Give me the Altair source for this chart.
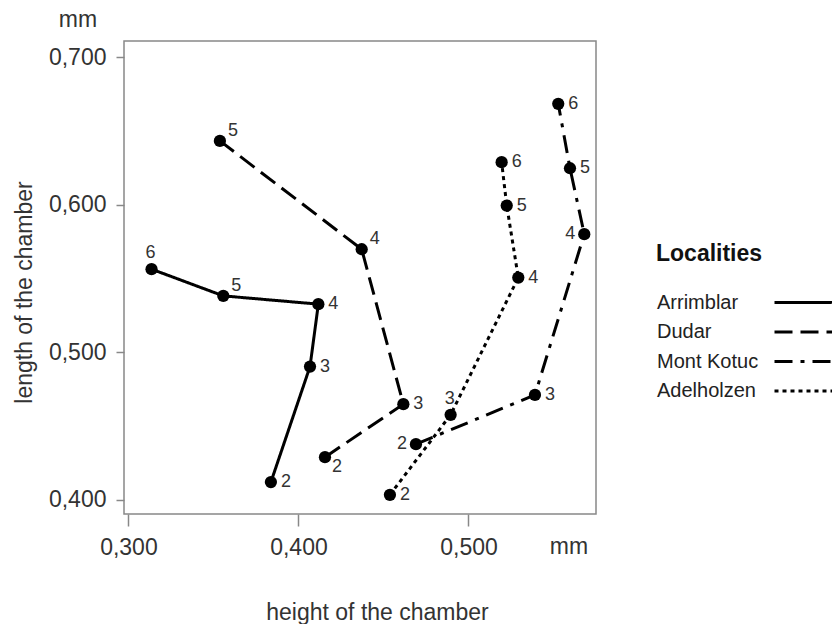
import altair as alt
import pandas as pd

localities = ["Arrimblar", "Dudar", "Mont Kotuc", "Adelholzen"]

arrimblar_chamber = [2, 3, 4, 5, 6]
arrimblar_height = [0.3838, 0.4068, 0.4117, 0.3558, 0.3136]
arrimblar_length = [0.4121, 0.4904, 0.5327, 0.5383, 0.5564]

dudar_chamber = [2, 3, 4, 5]
dudar_height = [0.4156, 0.4617, 0.4372, 0.3538]
dudar_length = [0.4290, 0.4649, 0.5699, 0.6433]

montkotuc_chamber = [2, 3, 4, 5, 6]
montkotuc_height = [0.4691, 0.5391, 0.5681, 0.5597, 0.5528]
montkotuc_length = [0.4378, 0.4712, 0.5801, 0.6248, 0.6684]

adelholzen_chamber = [2, 3, 4, 5, 6]
adelholzen_height = [0.4538, 0.4895, 0.5293, 0.5225, 0.5195]
adelholzen_length = [0.4035, 0.4577, 0.5507, 0.5995, 0.6289]

x_ticks = [0.3, 0.4, 0.5]
y_ticks = [0.4, 0.5, 0.6, 0.7]

# where each chamber number sits relative to its point (default: right)
label_side = {
    ("Arrimblar", 6): "U", ("Arrimblar", 5): "UR",
    ("Dudar", 5): "UR", ("Dudar", 4): "UR", ("Dudar", 2): "DR",
    ("Mont Kotuc", 4): "L", ("Mont Kotuc", 2): "L",
    ("Adelholzen", 3): "U",
}

series = [
    ("Arrimblar", arrimblar_chamber, arrimblar_height, arrimblar_length),
    ("Dudar", dudar_chamber, dudar_height, dudar_length),
    ("Mont Kotuc", montkotuc_chamber, montkotuc_height, montkotuc_length),
    ("Adelholzen", adelholzen_chamber, adelholzen_height, adelholzen_length),
]
rows = []
for name, ch, h, l in series:
    for c, hv, lv in zip(ch, h, l):
        rows.append({"locality": name, "chamber": c, "height": hv, "length": lv,
                     "side": label_side.get((name, c), "R")})
df = pd.DataFrame(rows)

FONT = "Liberation Sans"
fmt = "replace(format(datum.value, '.3f'), '.', ',')"

x_enc = alt.X("height:Q",
              scale=alt.Scale(domain=[0.2974, 0.575], nice=False, zero=False),
              axis=alt.Axis(values=x_ticks, labelExpr=fmt, grid=False, domain=False,
                            tickSize=12, tickColor="#888", tickWidth=1.5,
                            labelFont=FONT, labelFontSize=23, labelColor="#333",
                            labelPadding=10,
                            title="height of the chamber", titleFont=FONT,
                            titleFontSize=23, titleFontWeight="normal",
                            titleColor="#333", titleX=253, titleY=105,
                            titleAlign="center", titleBaseline="alphabetic"))
y_enc = alt.Y("length:Q",
              scale=alt.Scale(domain=[0.3905, 0.711], nice=False, zero=False),
              axis=alt.Axis(values=y_ticks, labelExpr=fmt, grid=False, domain=False,
                            tickSize=8, tickColor="#888", tickWidth=1.5,
                            labelFont=FONT, labelFontSize=23, labelColor="#333",
                            labelPadding=10,
                            title="length of the chamber", titleFont=FONT,
                            titleFontSize=23, titleFontWeight="normal",
                            titleColor="#333", titleX=-100, titleY=251,
                            titleAngle=270, titleAlign="center",
                            titleBaseline="middle"))

dash_scale = alt.Scale(domain=localities,
                       range=[[1, 0], [18, 8], [18, 8, 4, 8], [4, 4]])

lines = alt.Chart(df).mark_line(color="black", strokeWidth=3).encode(
    x=x_enc, y=y_enc,
    detail="locality:N",
    order=alt.Order("chamber:Q"),
    strokeDash=alt.StrokeDash(
        "locality:N", scale=dash_scale,
        legend=alt.Legend(title="Localities", orient="none", legendX=532,
                          legendY=202, direction="vertical", padding=0,
                          symbolType="M-3.5,0H3.5", symbolSize=400,
                          symbolStrokeWidth=3, symbolStrokeColor="black",
                          symbolFillColor="transparent",
                          symbolOffset=142, labelOffset={"expr": "-164"},
                          labelFont=FONT, labelFontSize=20, labelColor="#222",
                          titleFont=FONT, titleFontSize=23, titleFontWeight="bold",
                          titleColor="#111", titlePadding=25,
                          rowPadding=7.5)),
)

points = alt.Chart(df).mark_circle(color="black", size=150, opacity=1).encode(
    x="height:Q", y="length:Q")

side_style = {
    "R": dict(align="left", dx=10, dy=0),
    "UR": dict(align="left", dx=8, dy=-10),
    "DR": dict(align="left", dx=7, dy=10),
    "U": dict(align="center", dx=-1, dy=-16),
    "L": dict(align="right", dx=-9, dy=0),
}
labels = [
    alt.Chart(df).transform_filter(alt.datum.side == s).mark_text(
        font=FONT, fontSize=18, color="#333", baseline="middle", **st
    ).encode(x="height:Q", y="length:Q", text="chamber:N")
    for s, st in side_style.items()
]

units = pd.DataFrame({"unit": ["mm"]})
mm_y = alt.Chart(units).mark_text(font=FONT, fontSize=23, color="#333",
                                  align="center", baseline="alphabetic").encode(
    text="unit:N", x=alt.value(-46), y=alt.value(-14))
mm_x = alt.Chart(units).mark_text(font=FONT, fontSize=23, color="#333",
                                  align="center", baseline="alphabetic").encode(
    text="unit:N", x=alt.value(445), y=alt.value(513))

chart = alt.layer(lines, points, *labels, mm_y, mm_x).properties(
    width=472, height=473,
    autosize=alt.AutoSizeParams(type="none"),
    padding={"left": 124, "top": 41, "right": 236, "bottom": 110},
    background="white",
).configure_view(stroke="#888", strokeWidth=1.5)

chart.save("out.html", embed_options={"renderer": "svg", "actions": False})
